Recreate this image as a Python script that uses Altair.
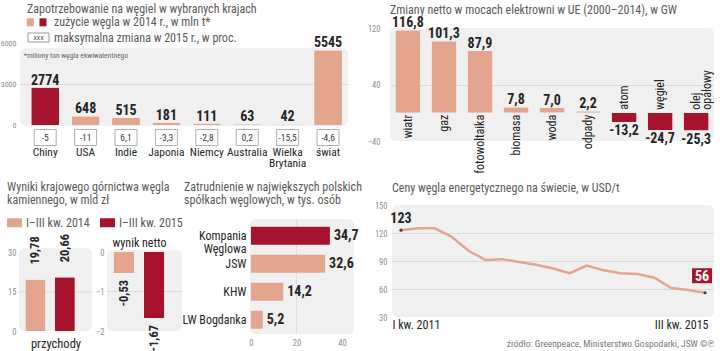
import altair as alt
import pandas as pd

SALMON = "#e3a58e"
RED = "#a5132d"
BG = "#f0f0f0"
GRID = "#dcdcdc"
TXT = "#262626"
GREY = "#5a5a5a"
AXC = "#8c8c8c"
FONT = "Liberation Sans Narrow, Roboto Condensed, Roboto, sans-serif"
NUM = FONT

# ---------------- data ----------------
kraje = ["Chiny", "USA", "Indie", "Japonia", "Niemcy", "Australia", "Wielka Brytania", "świat"]
zuzycie = [2774, 648, 515, 181, 111, 63, 42, 5545]
zmiana_2015 = ["-5", "-11", "6,1", "-3,3", "-2,8", "0,2", "-15,5", "-4,6"]
legenda1 = ["zużycie węgla w 2014 r., w mln t*", "maksymalna zmiana w 2015 r., w proc."]
przypis1 = ["*miliony ton węgla ekwiwalentnego"]

zrodla = ["wiatr", "gaz", "fotowoltaika", "biomasa", "woda", "odpady", "atom", "węgiel", "olej opałowy"]
moc = [116.8, 101.3, 87.9, 7.8, 7.0, 2.2, -13.2, -24.7, -25.3]

okresy = ["I–III kw. 2014", "I–III kw. 2015"]
przychody = [19.78, 20.66]
wynik_netto = [-0.53, -1.67]
tytul_wynik = ["wynik netto"]

spolki = ["Kompania Węglowa", "JSW", "KHW", "LW Bogdanka"]
zatrudnienie = [34.7, 32.6, 14.2, 5.2]

kwartaly = [f"{q} kw. {y}" for y in [2011, 2012, 2013, 2014] for q in ["I", "II", "III", "IV"]] + \
           ["I kw. 2015", "II kw. 2015", "III kw. 2015"]
ceny = [123, 125, 125, 116, 101, 91, 92, 89, 86, 82, 77, 85, 80, 77, 76, 72, 61, 59, 56]
zrodlo_txt = "źródło: Greenpeace, Ministerstwo Gospodarki, JSW   ©℗"


def pl(v, d):
    return f"{v:.{d}f}".replace(".", ",")


def rect_path(h):
    return f"M-1,-{h}L1,-{h}L1,{h}L-1,{h}Z"


def ttl(text, **kw):
    base = dict(text=text, anchor="start", fontSize=12, font=FONT, color=GREY,
                fontWeight="normal", lineHeight=13, frame="group")
    base.update(kw)
    return alt.TitleParams(**base)


def qaxis(values, pad, grid=True, edges=(), size=8.5, **extra):
    kw = dict(values=values, title=None, ticks=False, domain=False, labelFontSize=size,
              labelFont=FONT, labelColor=AXC, labelPadding=pad, format="d")
    if grid:
        kw["gridColor"] = GRID
        if edges:
            test = " || ".join(f"datum.value == {e}" for e in edges)
            kw["gridOpacity"] = {"condition": {"test": test, "value": 0}, "value": 1}
    else:
        kw["grid"] = False
    kw.update(extra)
    return alt.Axis(**kw)


ONE = pd.DataFrame({"k": [0]})
VIEW = alt.ViewBackground(fill=BG, stroke="transparent", cornerRadius=6)
NOVIEW = alt.ViewBackground(fill="transparent", stroke="transparent")

# ---------------- panel 1 ----------------
d1 = pd.DataFrame({"kraj": kraje, "zuzycie": zuzycie, "zmiana": zmiana_2015})
X1 = alt.X("kraj:N", sort=kraje, scale=alt.Scale(paddingInner=0.31, paddingOuter=0.226, align=0.67),
           axis=alt.Axis(title=None, labelAngle=0, ticks=False, domain=False, labelPadding=21,
                         labelFont=FONT, labelFontSize=11.5, labelColor=TXT, labelLineHeight=11,
                         labelExpr="split(datum.label, ' ')"))
Y1 = alt.Y("zuzycie:Q", scale=alt.Scale(domain=[0, 7185], nice=False),
           axis=qaxis([0, 3000, 6000], 3, grid=False, size=8))
bg1 = alt.Chart(ONE).mark_rect(color=BG, cornerRadius=6).encode(
    x=alt.value(1), x2=alt.value(329), y=alt.YDatum(5704), y2=alt.Y2Datum(-74))
grid1 = alt.Chart(ONE).mark_rule(color=GRID, strokeWidth=1).encode(
    x=alt.value(1), x2=alt.value(329), y=alt.YDatum(3000))
bars1 = alt.Chart(d1).mark_bar(cornerRadius=1).encode(
    x=X1, y=Y1, color=alt.condition(alt.datum.kraj == "Chiny", alt.value(RED), alt.value(SALMON)))
vals1 = alt.Chart(d1).mark_text(font=NUM, fontWeight="bold", fontSize=14, color=TXT,
                                baseline="alphabetic", dy=-3).encode(
    x=X1, y=Y1, text=alt.Text("zuzycie:Q", format="d"))
boxes1 = alt.Chart(d1).mark_point(shape=rect_path(0.73), size=484, filled=True, fill="white",
                                  stroke="#b0b0b0", strokeWidth=1, opacity=1, yOffset=12.5).encode(
    x=X1, y=alt.YDatum(0))
boxt1 = alt.Chart(d1).mark_text(font=FONT, fontSize=9.5, color="#3a3a3a", baseline="middle",
                                yOffset=12.5).encode(x=X1, y=alt.YDatum(0), text="zmiana:N")
sw_a = alt.Chart(ONE).mark_point(shape=rect_path(1.15), size=49, filled=True, color=SALMON,
                                 opacity=1).encode(x=alt.value(11.3), y=alt.value(-5.7))
sw_b = alt.Chart(ONE).mark_point(shape=rect_path(1.15), size=49, filled=True, color=RED,
                                 opacity=1).encode(x=alt.value(24), y=alt.value(-5.7))
sw_c = alt.Chart(ONE).mark_point(shape=rect_path(0.43), size=441, filled=True, fill="white",
                                 stroke="#999999", strokeWidth=1, opacity=1).encode(
    x=alt.value(19.5), y=alt.value(9.5))
sw_t = alt.Chart(pd.DataFrame({"t": ["XXX"]})).mark_text(fontSize=6, color="#444", font=FONT).encode(
    x=alt.value(19.5), y=alt.value(9.5), text="t:N")
lt1 = alt.Chart(pd.DataFrame({"t": [legenda1[0]]})).mark_text(
    align="left", baseline="middle", fontSize=12, color=GREY, font=FONT).encode(
    x=alt.value(35), y=alt.value(-5.7), text="t:N")
lt2 = alt.Chart(pd.DataFrame({"t": [legenda1[1]]})).mark_text(
    align="left", baseline="middle", fontSize=12, color=GREY, font=FONT).encode(
    x=alt.value(35), y=alt.value(9.5), text="t:N")
foot1 = alt.Chart(pd.DataFrame({"t": przypis1})).mark_text(
    align="left", baseline="middle", fontSize=7.5, color="#666", font=FONT).encode(
    x=alt.value(4.7), y=alt.value(28), text="t:N")
p1 = alt.layer(bg1, grid1, bars1, vals1, boxes1, boxt1, sw_a, sw_b, sw_c, sw_t, lt1, lt2, foot1).properties(
    width=329, height=97, view=NOVIEW,
    title=ttl("Zapotrzebowanie na węgiel w wybranych krajach", offset=0, dx=8))

# ---------------- panel 2 ----------------
d2 = pd.DataFrame({"zrodlo": zrodla, "moc": moc})
d2["lbl"] = [pl(v, 1) for v in moc]
X2 = alt.X("zrodlo:N", sort=zrodla, scale=alt.Scale(paddingInner=0.306, paddingOuter=0.15), axis=None)
Y2 = alt.Y("moc:Q", scale=alt.Scale(domain=[-40, 120], nice=False),
           axis=qaxis([-40, 0, 40, 80, 120], 10, edges=(-40, 120)))
bars2 = alt.Chart(d2).mark_bar(cornerRadius=1).encode(
    x=X2, y=Y2, color=alt.condition(alt.datum.moc < 0, alt.value(RED), alt.value(SALMON)))
vpos2 = alt.Chart(d2).transform_filter(alt.datum.moc > 0).mark_text(
    font=NUM, fontWeight="bold", fontSize=14, color=TXT, baseline="alphabetic", dy=-3).encode(
    x=X2, y=Y2, text="lbl:N")
vneg2 = alt.Chart(d2).transform_filter(alt.datum.moc < 0).mark_text(
    font=NUM, fontWeight="bold", fontSize=14, color=TXT, baseline="top", dy=2).encode(
    x=X2, y=Y2, text="lbl:N")
cpos2 = alt.Chart(d2).transform_filter(alt.datum.moc > 0).mark_text(
    font=FONT, fontSize=12, color=TXT, angle=270, align="right", baseline="middle",
    yOffset=2, lineBreak=" ").encode(x=X2, y=alt.YDatum(0), text="zrodlo:N")
cneg2 = alt.Chart(d2).transform_filter(alt.datum.moc < 0).mark_text(
    font=FONT, fontSize=12, color=TXT, angle=270, align="left", baseline="middle",
    yOffset=-3, lineBreak=" ", lineHeight=11).encode(x=X2, y=alt.YDatum(0), text="zrodlo:N")
p2 = alt.layer(bars2, vpos2, vneg2, cpos2, cneg2).properties(
    width=324, height=113, view=VIEW,
    title=ttl("Zmiany netto w mocach elektrowni w UE (2000–2014), w GW", offset=-1))

# ---------------- panel 3 ----------------
d3 = pd.DataFrame({"okres": okresy, "przychody": przychody, "wynik": wynik_netto})
d3["lp"] = [pl(v, 2) for v in przychody]
d3["lw"] = [pl(v, 2) for v in wynik_netto]
SC3 = alt.Scale(paddingInner=0.32, paddingOuter=0.4, align=0.27)
C3 = alt.Color("okres:N", scale=alt.Scale(domain=okresy, range=[SALMON, RED]),
               legend=alt.Legend(orient="none", legendX=-12, legendY=10, direction="horizontal",
                                 title=None, symbolType=rect_path(0.6), symbolSize=225,
                                 symbolStrokeWidth=0, labelFontSize=12, labelColor=GREY,
                                 labelFont=FONT, columnPadding=10, labelOffset=4, padding=0))
X3a = alt.X("okres:N", sort=okresy, scale=SC3,
            axis=alt.Axis(labels=False, ticks=False, domain=False, grid=False, title="przychody",
                          titleFontSize=12.5, titleFontWeight="normal", titleColor=TXT,
                          titleFont=FONT, titlePadding=6))
Y3a = alt.Y("przychody:Q", scale=alt.Scale(domain=[0, 48.46], nice=False),
            axis=qaxis([0, 15, 30], 3, grid=False))
bg3a = alt.Chart(ONE).mark_rect(color=BG, cornerRadius=6).encode(
    y=alt.YDatum(31.9), y2=alt.Y2Datum(0))
grid3a = alt.Chart(ONE).mark_rule(color=GRID).encode(y=alt.YDatum(15))
bars3a = alt.Chart(d3).mark_bar(cornerRadius=1).encode(x=X3a, y=Y3a, color=C3)
lab3a = alt.Chart(d3).mark_text(font=NUM, fontWeight="bold", fontSize=12.5, color=TXT, angle=270,
                                align="left", baseline="middle", yOffset=-15).encode(
    x=X3a, y=Y3a, text="lp:N")
p3a = alt.layer(bg3a, grid3a, bars3a, lab3a).properties(
    width=73, height=126, view=NOVIEW,
    title=ttl(["Wyniki krajowego górnictwa węgla", "kamiennego, w mld zł"], offset=-2, dx=-12))

X3b = alt.X("okres:N", sort=okresy, scale=SC3, axis=None)
Y3b = alt.Y("wynik:Q", scale=alt.Scale(domain=[-2, 1.19], nice=False),
            axis=qaxis([-2, -1, 0], 3, grid=False))
bg3b = alt.Chart(ONE).mark_rect(color=BG, cornerRadius=6).encode(
    y=alt.YDatum(0.05), y2=alt.Y2Datum(-2))
grid3b = alt.Chart(ONE).mark_rule(color=GRID).encode(y=alt.YDatum(-1))
bars3b = alt.Chart(d3).mark_bar(cornerRadius=1).encode(
    x=X3b, y=Y3b,
    color=alt.condition(alt.datum.okres == okresy[0], alt.value(SALMON), alt.value(RED)))
lab3b = alt.Chart(d3).mark_text(font=NUM, fontWeight="bold", fontSize=12.5, color=TXT, angle=270,
                                align="right", baseline="middle", yOffset=7).encode(
    x=X3b, y=Y3b, text="lw:N")
tit3b = alt.Chart(pd.DataFrame({"t": tytul_wynik})).mark_text(
    font=FONT, fontSize=12, color=TXT, baseline="alphabetic", dy=-1, dx=-5).encode(
    y=alt.YDatum(0.1), text="t:N")
p3b = alt.layer(bg3b, grid3b, bars3b, lab3b, tit3b).properties(width=75, height=126, view=NOVIEW)

# ---------------- panel 4 ----------------
d4 = pd.DataFrame({"spolka": spolki, "zatr": zatrudnienie})
d4["lbl"] = [pl(v, 1) for v in zatrudnienie]
Y4 = alt.Y("spolka:N", sort=spolki, scale=alt.Scale(paddingInner=0.357, paddingOuter=0.482, align=0.81),
           axis=alt.Axis(title=None, ticks=False, domain=False, labelFontSize=12, labelColor=TXT,
                         labelPadding=5, labelFont=FONT, labelLineHeight=13, offset=-54,
                         labelExpr="indexof(datum.label, 'Kompania') == 0 ? split(datum.label, ' ') : datum.label"))
X4 = alt.X("zatr:Q", scale=alt.Scale(domain=[-23.7, 55.4], nice=False, zero=False),
           axis=qaxis([0, 20, 40], 4, grid=False))
bg4 = alt.Chart(ONE).mark_rect(color=BG, cornerRadius=6).encode(
    x=alt.XDatum(-0.4), x2=alt.X2Datum(45.3), y=alt.value(14), y2=alt.value(129))
grid4 = alt.Chart(ONE).mark_rule(color=GRID).encode(x=alt.XDatum(20), y=alt.value(14), y2=alt.value(129))
bars4 = alt.Chart(d4).mark_bar(cornerRadius=1).encode(
    y=Y4, x=X4, x2=alt.X2Datum(0),
    color=alt.condition(alt.datum.spolka == "Kompania Węglowa", alt.value(RED), alt.value(SALMON)))
lab4 = alt.Chart(d4).mark_text(font=NUM, fontWeight="bold", fontSize=14, color=TXT, align="left",
                               baseline="middle", dx=4).encode(y=Y4, x=X4, text="lbl:N")
p4 = alt.layer(bg4, grid4, bars4, lab4).properties(
    width=180, height=129, view=NOVIEW,
    title=ttl(["Zatrudnienie w największych polskich", "spółkach węglowych, w tys. osób"],
              offset=-2, dx=-13))

# ---------------- panel 5 ----------------
d5 = pd.DataFrame({"kw": kwartaly, "cena": ceny})
first_q = kwartaly[0]
last_q = kwartaly[-1]
X5 = alt.X("kw:N", sort=kwartaly, scale=alt.Scale(type="point", padding=0.53),
           axis=alt.Axis(values=[first_q, last_q], labelAngle=0, ticks=False, domain=False, grid=False,
                         labelFontSize=12, labelColor=TXT, labelFont=FONT, labelPadding=2,
                         labelAlign={"condition": {"test": f"datum.value == '{first_q}'", "value": "left"},
                                     "value": "right"},
                         labelOffset={"condition": {"test": f"datum.value == '{first_q}'", "value": -9},
                                      "value": 3},
                         title=zrodlo_txt, titleAnchor="end", titleFontSize=9.5, titleColor="#777",
                         titleFontWeight="normal", titleFont=FONT, titlePadding=8))
Y5 = alt.Y("cena:Q", scale=alt.Scale(domain=[30, 150], nice=False, zero=False),
           axis=qaxis([30, 60, 90, 120, 150], 5, edges=(30, 150)))
line5 = alt.Chart(d5).mark_line(color=SALMON, strokeWidth=2.5).encode(x=X5, y=Y5)
ends5 = alt.Chart(d5).transform_filter(
    (alt.datum.kw == first_q) | (alt.datum.kw == last_q)).mark_circle(
    size=10, color="#444", opacity=1).encode(x=X5, y=Y5)
t123 = alt.Chart(d5).transform_filter(alt.datum.kw == first_q).mark_text(
    font=NUM, fontWeight="bold", fontSize=14, color=TXT, baseline="alphabetic", dy=-7).encode(
    x=X5, y=Y5, text="cena:Q")
box56 = alt.Chart(d5).transform_filter(alt.datum.kw == last_q).mark_point(
    shape=rect_path(0.75), size=400, filled=True, color=RED, opacity=1, xOffset=-3, yOffset=-17).encode(
    x=X5, y=Y5)
t56 = alt.Chart(d5).transform_filter(alt.datum.kw == last_q).mark_text(
    font=NUM, fontWeight="bold", fontSize=14, color="white", baseline="middle",
    xOffset=-3, yOffset=-16).encode(x=X5, y=Y5, text="cena:Q")
p5 = alt.layer(line5, ends5, t123, box56, t56).properties(
    width=322, height=112, view=VIEW,
    title=ttl("Ceny węgla energetycznego na świecie, w USD/t", offset=6))

# ---------------- layout ----------------
row1 = alt.concat(p1, p2, columns=2, bounds="flush", spacing=42)
row2 = alt.concat(p3a, p3b, p4, p5, columns=4, bounds="flush", spacing=15).resolve_scale(color="independent")

chart = alt.vconcat(row1, row2, spacing=7).properties(
    padding={"left": 0, "top": 3, "right": 0, "bottom": 0},
    background="white",
).resolve_scale(color="independent").configure_view(strokeWidth=0)

chart.save("out.html", embed_options={"renderer": "svg", "actions": False})
